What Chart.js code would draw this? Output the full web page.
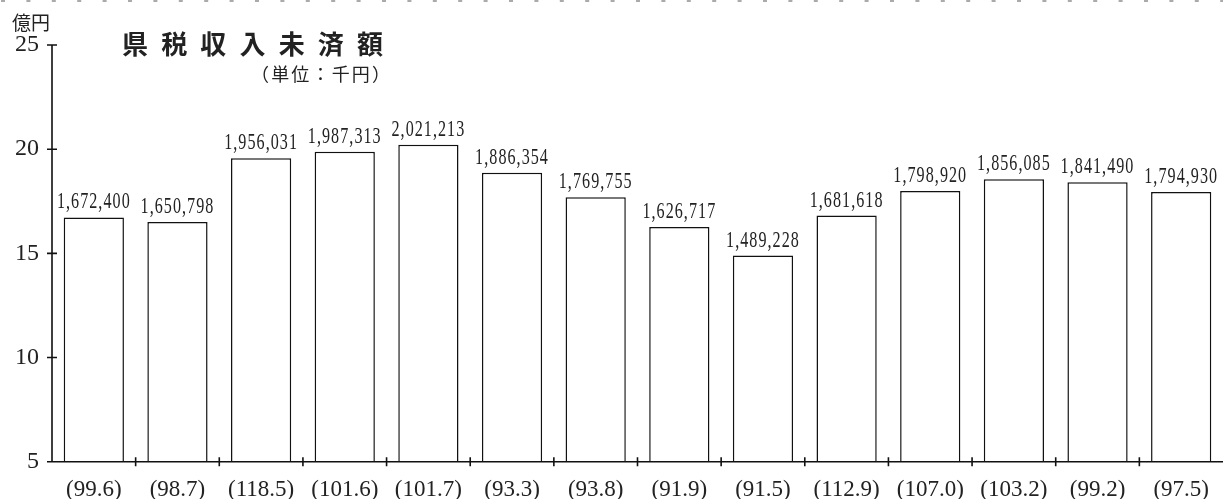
<!DOCTYPE html>
<html>
<head>
<meta charset="utf-8">
<script src="https://cdn.jsdelivr.net/npm/chart.js@4/dist/chart.umd.min.js"></script>
<style>
html,body{margin:0;padding:0;background:#fff;}
#wrap{position:relative;width:1223px;height:499px;}
</style>
</head>
<body>
<div id="wrap"><canvas id="c"></canvas></div>
<script>
// Ratio labels shown under each bar (前年比 %)
const ratioLabels = ['(99.6)','(98.7)','(118.5)','(101.6)','(101.7)','(93.3)','(93.8)','(91.9)','(91.5)','(112.9)','(107.0)','(103.2)','(99.2)','(97.5)'];
// Amount labels printed above bars (単位：千円)
const amountLabels = ['1,672,400','1,650,798','1,956,031','1,987,313','2,021,213','1,886,354','1,769,755','1,626,717','1,489,228','1,681,618','1,798,920','1,856,085','1,841,490','1,794,930'];
// Bar values in 億円
const valuesOku = [16.724, 16.508, 19.560, 19.873, 20.212, 18.864, 17.698, 16.267, 14.892, 16.816, 17.989, 18.561, 18.415, 17.949];
// Y axis ticks
const yTicks = [5, 10, 15, 20, 25];

const SERIF = '"Liberation Serif", "DejaVu Serif", serif';
const CJK = '"Noto Sans CJK JP", sans-serif';

function fitText(ctx, text, x, y, targetW) {
  ctx.letterSpacing = '0px';
  const w = ctx.measureText(text).width;
  const n = [...text].length;
  const sp = n > 1 ? (targetW - w) / (n - 1) : 0;
  ctx.letterSpacing = sp + 'px';
  ctx.textAlign = 'left';
  ctx.fillText(text, x, y);
  ctx.letterSpacing = '0px';
}

const decor = {
  id: 'decor',
  afterDatasetsDraw(chart) {
    const {ctx, chartArea: a, scales: {x, y}} = chart;
    ctx.save();
    // dashed top line
    ctx.strokeStyle = '#aaa';
    ctx.lineWidth = 2;
    ctx.setLineDash([4, 21.4]);
    ctx.lineDashOffset = -1;
    ctx.beginPath();
    ctx.moveTo(0, 1);
    ctx.lineTo(chart.width, 1);
    ctx.stroke();
    ctx.setLineDash([]);

    // axes
    ctx.strokeStyle = '#111';
    ctx.lineWidth = 1.6;
    ctx.beginPath();
    ctx.moveTo(a.left, y.getPixelForValue(yTicks[yTicks.length - 1]));
    ctx.lineTo(a.left, a.bottom);
    ctx.lineTo(chart.width, a.bottom);
    yTicks.forEach(v => {
      const py = y.getPixelForValue(v);
      ctx.moveTo(a.left - 5, py);
      ctx.lineTo(a.left + 5, py);
    });
    for (let i = 1; i < ratioLabels.length; i++) {
      const px = (x.getPixelForValue(i - 1) + x.getPixelForValue(i)) / 2;
      ctx.moveTo(px, a.bottom - 4.5);
      ctx.lineTo(px, a.bottom + 4.5);
    }
    ctx.stroke();

    // value labels
    ctx.fillStyle = '#222';
    ctx.font = '23px ' + SERIF;
    ctx.textAlign = 'center';
    ctx.textBaseline = 'alphabetic';
    ctx.letterSpacing = '1.5px';
    const meta = chart.getDatasetMeta(0);
    meta.data.forEach((bar, i) => {
      ctx.save();
      ctx.translate(bar.x, bar.y - 9);
      ctx.scale(0.7, 1);
      ctx.fillText(amountLabels[i], 0, 0);
      ctx.restore();
    });
    ctx.letterSpacing = '0px';

    // unit label at top-left
    ctx.textBaseline = 'middle';
    ctx.font = '19px ' + CJK;
    fitText(ctx, '億円', 12, 23, 38);

    // title
    ctx.font = 'bold 26px ' + CJK;
    fitText(ctx, '県税収入未済額', 122, 44, 261);

    // subtitle
    ctx.font = '18px ' + CJK;
    fitText(ctx, '（単位：千円）', 251, 74, 139);
    ctx.restore();
  }
};

Chart.defaults.color = '#222';

new Chart(document.getElementById('c'), {
  type: 'bar',
  data: {
    labels: ratioLabels,
    datasets: [{
      data: valuesOku,
      backgroundColor: '#fff',
      borderColor: '#111',
      borderWidth: 1.5,
      borderSkipped: false,
      categoryPercentage: 1,
      barPercentage: 0.72
    }]
  },
  options: {
    responsive: true,
    maintainAspectRatio: false,
    animation: false,
    layout: {padding: {top: 45, right: 0, left: 0, bottom: 0}},
    plugins: {legend: {display: false}, tooltip: {enabled: false}},
    scales: {
      x: {
        grid: {display: false},
        border: {display: false},
        ticks: {font: {family: SERIF, size: 23}, padding: 6, maxRotation: 0, autoSkip: false},
        afterFit(scale) { scale.height = 37.3; }
      },
      y: {
        min: 5, max: 25,
        grid: {display: false, drawTicks: false},
        border: {display: false},
        ticks: {stepSize: 5, font: {family: SERIF, size: 24}, padding: 13},
        afterFit(scale) { scale.width = 52; }
      }
    }
  },
  plugins: [decor]
});
</script>
</body>
</html>
